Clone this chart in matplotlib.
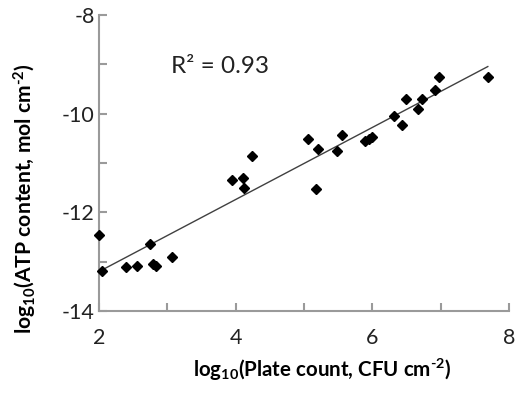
import numpy as np
import matplotlib
matplotlib.use("Agg")
import matplotlib.pyplot as plt

plate_count = [2.00, 2.05, 2.39, 2.56, 2.74, 2.79, 2.83, 3.07, 3.95, 4.11, 4.12, 4.24,
               5.06, 5.17, 5.20, 5.48, 5.56, 5.90, 5.95, 6.00, 6.31, 6.44, 6.50, 6.67,
               6.72, 6.92, 6.97, 7.69]
atp_content = [-12.45, -13.19, -13.11, -13.08, -12.64, -13.05, -13.09, -12.91, -11.35, -11.30,
               -11.50, -10.86, -10.52, -11.53, -10.71, -10.75, -10.44, -10.56, -10.51, -10.47,
               -10.04, -10.23, -9.71, -9.91, -9.71, -9.52, -9.25, -9.25]
x_ticks = [2, 4, 6, 8]
y_ticks = [-14, -12, -10, -8]
r2_text = "R² = 0.93"

plt.rcParams['font.family'] = ['Lato', 'DejaVu Sans']
plt.rcParams['mathtext.fontset'] = 'custom'
plt.rcParams['mathtext.rm'] = 'Lato:bold'
plt.rcParams['mathtext.bf'] = 'Lato:bold'
plt.rcParams['mathtext.it'] = 'Lato:bold'
plt.rcParams['mathtext.default'] = 'rm'

fig = plt.figure(figsize=(5.15, 3.98), dpi=100)
ax = fig.add_axes([99/515, 1-311/398, 410/515, 296/398])

x = np.array(plate_count)
y = np.array(atp_content)
slope, intercept = np.polyfit(x, y, 1)
xl = np.array([x.min(), x.max()])
ax.plot(xl, slope*xl + intercept, color='#404040', lw=1.0, zorder=2)
ax.plot(x, y, linestyle='none', marker='D', ms=5.5, color='black', clip_on=False, zorder=3)

ax.set_xlim(2, 8)
ax.set_ylim(-14, -8)
ax.set_xticks(x_ticks)
ax.set_xticks(np.arange(2, 9, 1), minor=True)
ax.set_yticks(y_ticks)
ax.set_yticks(np.arange(-14, -7, 1), minor=True)
ax.set_xticklabels([str(v) for v in x_ticks])
ax.set_yticklabels([str(v) for v in y_ticks])

for s in ['top', 'right']:
    ax.spines[s].set_visible(False)
for s in ['left', 'bottom']:
    ax.spines[s].set_color('#9a9a9a')
    ax.spines[s].set_linewidth(1.5)
ax.tick_params(which='both', direction='in', length=6, width=1.5, color='#9a9a9a',
               labelsize=15.5, labelcolor='#222222')
ax.tick_params(axis='x', which='major', pad=12)
ax.tick_params(axis='y', which='major', pad=3)

ax.set_xlabel(r'log$_{10}$(Plate count, CFU cm$^{\text{-}2}$)', fontsize=14.8, fontweight='bold', va='center')
ax.xaxis.set_label_coords(0.545, -0.20)
ax.set_ylabel(r'log$_{10}$(ATP content, mol cm$^{\text{-}2}$)', fontsize=15.2, fontweight='bold', va='center')
ax.yaxis.set_label_coords(-0.18, 0.38)

ax.text(3.06, -9.05, r2_text, fontsize=17.5, ha='left', va='center', color='#222222')

fig.savefig('out.png', dpi=100)
